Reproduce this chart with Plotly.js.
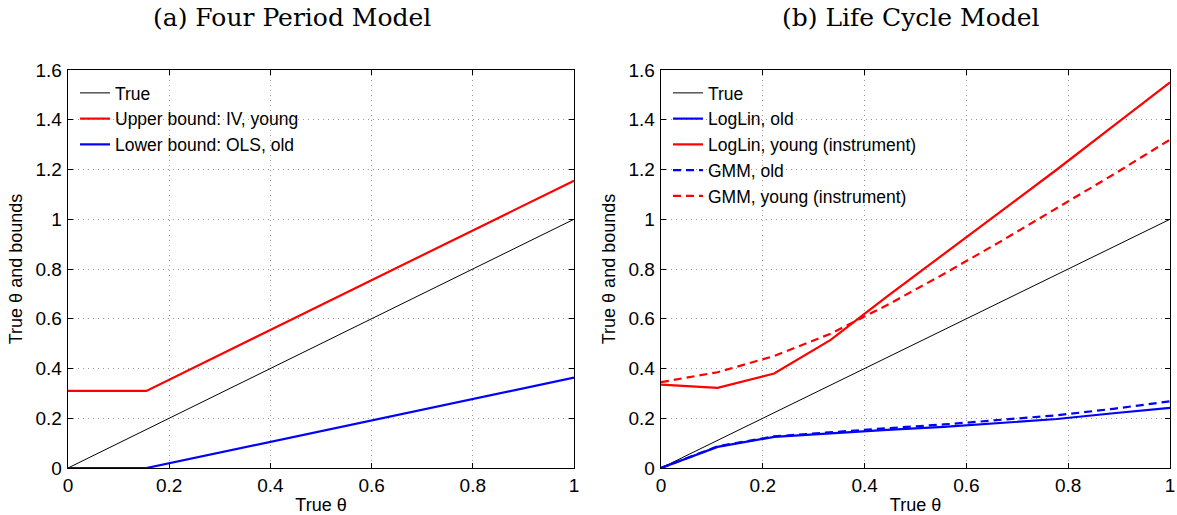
<!DOCTYPE html>
<html><head><meta charset="utf-8">
<script src="https://cdn.plot.ly/plotly-3.0.1.min.js"></script>
<style>html,body{margin:0;padding:0;background:#fff}#c{width:1177px;height:515px}</style>
</head><body><div id="c"></div>
<script>
// Panel (a): Four Period Model
const xA = [0, 0.155, 1];
const trueA = [0, 0.155, 1];
const upperA = [0.31, 0.31, 1.155];
const lowerA = [0, 0, 0.363];

// Panel (b): Life Cycle Model (grid k/9)
const xB = [0, 1/9, 2/9, 3/9, 4/9, 5/9, 6/9, 7/9, 8/9, 1];
const trueB = [0, 1/9, 2/9, 3/9, 4/9, 5/9, 6/9, 7/9, 8/9, 1];
const logOld = [0, 0.085, 0.125, 0.14, 0.153, 0.165, 0.18, 0.197, 0.22, 0.242];
const logYoung = [0.335, 0.322, 0.38, 0.515, 0.69, 0.86, 1.03, 1.2, 1.375, 1.55];
const gmmOld = [0, 0.087, 0.127, 0.145, 0.16, 0.175, 0.192, 0.212, 0.238, 0.268];
const gmmYoung = [0.345, 0.385, 0.45, 0.54, 0.655, 0.78, 0.91, 1.045, 1.18, 1.32];

const tickVals = [0, 0.2, 0.4, 0.6, 0.8, 1];
const tickText = ['0', '0.2', '0.4', '0.6', '0.8', '1'];
const yTickVals = [0, 0.2, 0.4, 0.6, 0.8, 1, 1.2, 1.4, 1.6];
const yTickText = ['0', '0.2', '0.4', '0.6', '0.8', '1', '1.2', '1.4', '1.6'];

const RED = '#ff0000', BLUE = '#0000ff';
const DASH = '8px,5px';
const traces = [
  {x: xA, y: trueA, name: 'True', mode: 'lines', line: {color: '#000', width: 1}, xaxis: 'x', yaxis: 'y', legend: 'legend'},
  {x: xA, y: upperA, name: 'Upper bound: IV, young', mode: 'lines', line: {color: RED, width: 2.2}, xaxis: 'x', yaxis: 'y', legend: 'legend'},
  {x: xA, y: lowerA, name: 'Lower bound: OLS, old', mode: 'lines', line: {color: BLUE, width: 2.2}, xaxis: 'x', yaxis: 'y', legend: 'legend'},
  {x: xB, y: trueB, name: 'True', mode: 'lines', line: {color: '#000', width: 1}, xaxis: 'x2', yaxis: 'y2', legend: 'legend2'},
  {x: xB, y: logOld, name: 'LogLin, old', mode: 'lines', line: {color: BLUE, width: 2.2}, xaxis: 'x2', yaxis: 'y2', legend: 'legend2'},
  {x: xB, y: logYoung, name: 'LogLin, young (instrument)', mode: 'lines', line: {color: RED, width: 2.2}, xaxis: 'x2', yaxis: 'y2', legend: 'legend2'},
  {x: xB, y: gmmOld, name: 'GMM, old', mode: 'lines', line: {color: BLUE, width: 2.2, dash: DASH}, xaxis: 'x2', yaxis: 'y2', legend: 'legend2'},
  {x: xB, y: gmmYoung, name: 'GMM, young (instrument)', mode: 'lines', line: {color: RED, width: 2.2, dash: DASH}, xaxis: 'x2', yaxis: 'y2', legend: 'legend2'}
];

const W = 1177, H = 515;
const tickFont = {family: 'Liberation Sans, Arial, sans-serif', size: 19, color: '#000'};
const titleFont = {family: 'Liberation Sans, Arial, sans-serif', size: 18, color: '#000'};
const legFont = {family: 'Liberation Sans, Arial, sans-serif', size: 17.5, color: '#000'};
const common = {ticks: 'inside', ticklen: 5, tickcolor: '#000', tickwidth: 1, showline: true, linecolor: '#000', linewidth: 1.3,
  mirror: 'ticks', showgrid: true, gridcolor: '#999', griddash: '1px,4px', gridwidth: 1, zeroline: false,
  tickfont: tickFont, fixedrange: true};
function xax(domain, anchor) {
  return Object.assign({}, common, {domain: domain, anchor: anchor, range: [0, 1], tickvals: tickVals, ticktext: tickText,
    ticklabelstandoff: 0, title: {text: 'True θ', font: titleFont, standoff: 5}});
}
function yax(anchor) {
  return Object.assign({}, common, {domain: [(H - 468) / H, (H - 70) / H], anchor: anchor, range: [0, 1.6],
    tickvals: yTickVals, ticktext: yTickText, ticklabelstandoff: 1, title: {text: 'True θ and bounds', font: titleFont, standoff: 8}});
}
const legBase = {bgcolor: 'rgba(0,0,0,0)', borderwidth: 0, font: legFont, xanchor: 'left', yanchor: 'top',
  itemwidth: 30, tracegroupgap: 0, itemclick: false};
const serif = {family: 'DejaVu Serif, Liberation Serif, serif', size: 25, color: '#000'};
const layout = {
  width: W, height: H, margin: {l: 0, r: 0, t: 0, b: 0}, paper_bgcolor: '#fff', plot_bgcolor: '#fff',
  showlegend: true,
  xaxis: xax([68 / W, 574 / W], 'y'),
  yaxis: yax('x'),
  xaxis2: xax([661 / W, 1170 / W], 'y2'),
  yaxis2: yax('x2'),
  legend: Object.assign({}, legBase, {x: 75 / W, y: (H - 75) / H}),
  legend2: Object.assign({}, legBase, {x: 668 / W, y: (H - 75) / H}),
  annotations: [
    {text: '(a) Four Period Model', x: 292 / W, y: (H - 17) / H, xref: 'paper', yref: 'paper', showarrow: false,
      font: serif, xanchor: 'center', yanchor: 'middle'},
    {text: '(b) Life Cycle Model', x: 910 / W, y: (H - 17) / H, xref: 'paper', yref: 'paper', showarrow: false,
      font: serif, xanchor: 'center', yanchor: 'middle'}
  ]
};
Plotly.newPlot('c', traces, layout, {staticPlot: true, displayModeBar: false});
</script></body></html>
